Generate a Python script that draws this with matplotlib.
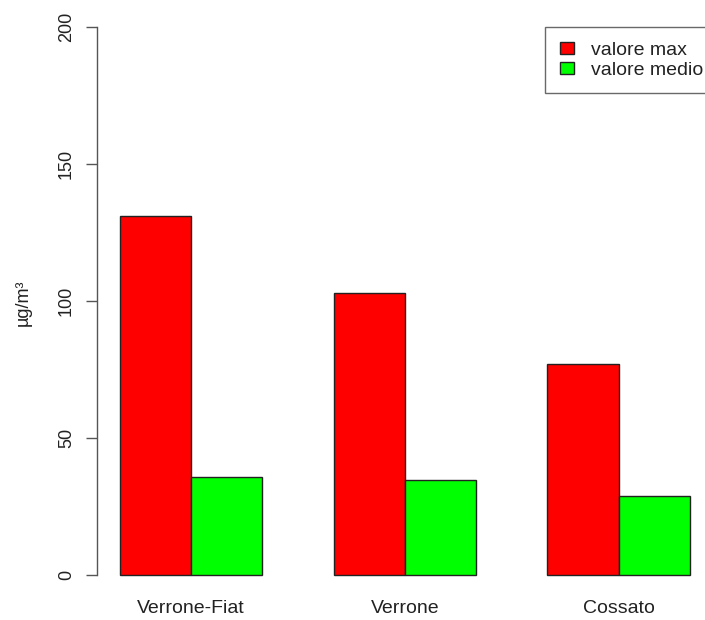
import matplotlib
matplotlib.use("Agg")
import matplotlib.pyplot as plt
from matplotlib.patches import Patch

categories = ["Verrone-Fiat", "Verrone", "Cossato"]
valore_max = [131, 103, 77]
valore_medio = [35.8, 34.6, 28.8]
series_labels = ["valore max", "valore medio"]
yticks = [0, 50, 100, 150, 200]

plt.rcParams['font.family'] = ['Liberation Sans', 'DejaVu Sans']
plt.rcParams['font.size'] = 13

fig = plt.figure(figsize=(7.05, 6.2), dpi=100)
W, H = 705, 620
left, right = 97.2, 712.8
top, bottom = 5.1, 596.9
ax = fig.add_axes([left / W, 1 - bottom / H, (right - left) / W, (bottom - top) / H])

red_x = [1 + 3 * i for i in range(len(categories))]
green_x = [2 + 3 * i for i in range(len(categories))]
ax.bar(red_x, valore_max, width=1, align='edge', color='#FF0000', edgecolor='#222222', linewidth=1)
ax.bar(green_x, valore_medio, width=1, align='edge', color='#00FF00', edgecolor='#222222', linewidth=1)

ax.set_xlim(0.68, 9.32)
ax.set_ylim(-8, 208)
for s in ['top', 'right', 'bottom']:
    ax.spines[s].set_visible(False)
ax.spines['left'].set_bounds(0, 200)
ax.spines['left'].set_color('#555555')
ax.spines['left'].set_linewidth(1)

ax.set_yticks(yticks)
ax.set_yticklabels([str(t) for t in yticks], rotation=90, va='center', color='#222222', fontsize=13)
ax.tick_params(axis='y', length=8, width=1, color='#555555', pad=8)

ax.set_xticks([g + 1 for g in red_x])
ax.set_xticklabels(categories, color='#222222', fontsize=14)
ax.tick_params(axis='x', length=0, pad=2)

fig.text(23 / W, 1 - 303 / H, "µg/m³", rotation=90, ha='center', va='center',
         color='#222222', fontsize=13)

handles = [Patch(facecolor='#FF0000', edgecolor='#222222', linewidth=1),
           Patch(facecolor='#00FF00', edgecolor='#222222', linewidth=1)]
leg = fig.legend(handles, series_labels, loc='upper left',
                 bbox_to_anchor=(545 / W, 1 - 27 / H), bbox_transform=fig.transFigure,
                 fancybox=False, shadow=False, frameon=True, borderaxespad=0,
                 handlelength=0.72, handleheight=0.57, handletextpad=0.88,
                 borderpad=0.75, labelspacing=0.16, fontsize=14)
leg.get_frame().set_edgecolor('#444444')
leg.get_frame().set_linewidth(1)
for t in leg.get_texts():
    t.set_color('#222222')

fig.savefig("out.png", dpi=100)
